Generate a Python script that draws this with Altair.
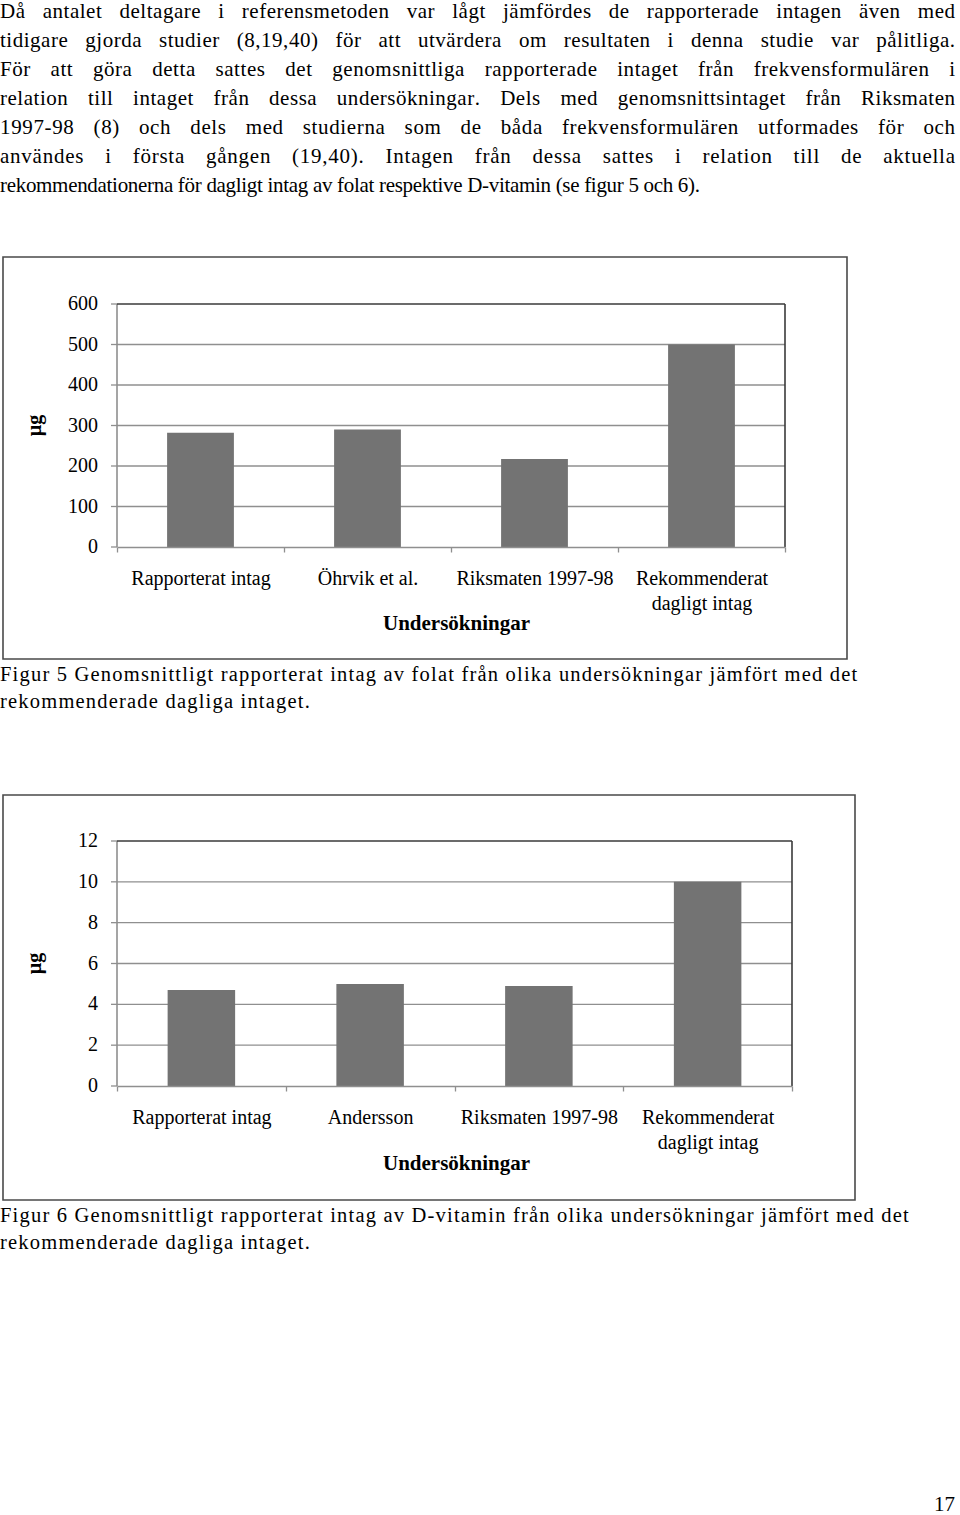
import altair as alt
import pandas as pd

# ---------------- data ----------------
body_lines = [
    "Då antalet deltagare i referensmetoden var lågt jämfördes de rapporterade intagen även med",
    "tidigare gjorda studier (8,19,40) för att utvärdera om resultaten i denna studie var pålitliga.",
    "För att göra detta sattes det genomsnittliga rapporterade intaget från frekvensformulären i",
    "relation till intaget från dessa undersökningar. Dels med genomsnittsintaget från Riksmaten",
    "1997-98 (8) och dels med studierna som de båda frekvensformulären utformades för och",
    "användes i första gången (19,40). Intagen från dessa sattes i relation till de aktuella",
    "rekommendationerna för dagligt intag av folat respektive D-vitamin (se figur 5 och 6).",
]
caption5_lines = [
    "Figur 5 Genomsnittligt rapporterat intag av folat från olika undersökningar jämfört med det",
    "rekommenderade dagliga intaget.",
]
caption6_lines = [
    "Figur 6 Genomsnittligt rapporterat intag av D-vitamin från olika undersökningar jämfört med det",
    "rekommenderade dagliga intaget.",
]
page_number = ["17"]

fig5_categories = ["Rapporterat intag", "Öhrvik et al.", "Riksmaten 1997-98", "Rekommenderat dagligt intag"]
fig5_values = [282, 290, 217, 500]
fig5_ticks = [0, 100, 200, 300, 400, 500, 600]

fig6_categories = ["Rapporterat intag", "Andersson", "Riksmaten 1997-98", "Rekommenderat dagligt intag"]
fig6_values = [4.7, 5.0, 4.9, 10]
fig6_ticks = [0, 2, 4, 6, 8, 10, 12]

x_title = "Undersökningar"
y_title = "µg"

# ---------------- layout / style ----------------
W, H = 960, 1515
FONT = "Liberation Serif"
BAR = "#737373"
GRID = "#8f8f8f"
DARK = "#3a3a3a"

# Times / Liberation Serif advance widths (1/1000 em) for justified text layout
_W = {" ": 250, "(": 333, ")": 333, ",": 250, ".": 250, "-": 333, ":": 278,
      "A": 722, "B": 667, "C": 667, "D": 722, "E": 611, "F": 556, "G": 722, "H": 722,
      "I": 333, "J": 389, "K": 722, "L": 611, "M": 889, "N": 722, "O": 722, "P": 556,
      "Q": 722, "R": 667, "S": 556, "T": 611, "U": 722, "V": 722, "W": 944, "X": 722,
      "Y": 722, "Z": 611, "Å": 722, "Ä": 722, "Ö": 722,
      "a": 444, "b": 500, "c": 444, "d": 500, "e": 444, "f": 333, "g": 500, "h": 500,
      "i": 278, "j": 278, "k": 500, "l": 278, "m": 778, "n": 500, "o": 500, "p": 500,
      "q": 500, "r": 333, "s": 389, "t": 278, "u": 500, "v": 500, "w": 722, "x": 500,
      "y": 500, "z": 444, "å": 444, "ä": 444, "ö": 500}
for _d in "0123456789":
    _W[_d] = 500


def layout_chars(lines, x0, y0, dy, fs, targets=None, letter_extra=0.0, word_share=0.6):
    rows = []
    for i, text in enumerate(lines):
        widths = [_W.get(c, 500) / 1000 * fs for c in text]
        natural = sum(widths)
        add_letter, add_space = letter_extra, 0.0
        target = targets[i] if targets else None
        if target:
            share = word_share if target > natural else 0.0
            extra = target - natural
            n_sp = max(text.count(" "), 1)
            add_space = extra * share / n_sp
            add_letter = extra * (1 - share) / max(len(text) - 1, 1)
        x = x0
        for c, w in zip(text, widths):
            if c != " ":
                rows.append({"c": c, "px": x, "py": y0 + i * dy})
            x += w + add_letter + (add_space if c == " " else 0.0)
    return pd.DataFrame(rows)


def text_chars(df, fs):
    return alt.Chart(df).mark_text(
        align="left", baseline="middle", font=FONT, fontSize=fs, color="black"
    ).encode(x=alt.X("px:Q", scale=None, axis=None),
             y=alt.Y("py:Q", scale=None, axis=None), text="c:N")


def text_block(lines, x0, y0, dy, size, align="left"):
    df = pd.DataFrame({"t": lines, "py": [y0 + i * dy for i in range(len(lines))]})
    return alt.Chart(df).mark_text(
        align=align, baseline="middle", font=FONT, fontSize=size, color="black"
    ).encode(x=alt.value(x0), y=alt.Y("py:Q", scale=None, axis=None), text="t:N")


def bar_figure(cats, vals, ticks, plot, frame, title_y):
    left, right, top, bottom = plot
    df = pd.DataFrame({"cat": cats, "val": vals})
    tdf = pd.DataFrame({"v": ticks, "lab": [str(t) for t in ticks]})
    xscale = alt.Scale(domain=cats, range=[left, right], paddingInner=0, paddingOuter=0)
    yscale = alt.Scale(domain=[ticks[0], ticks[-1]], range=[bottom, top], nice=False, zero=True)
    yenc = alt.Y("v:Q", scale=yscale, axis=None)

    one = pd.DataFrame({"a": [0]})
    frame_layer = alt.Chart(one).mark_rect(
        fill="transparent", stroke="#4a4a4a", strokeWidth=1.6
    ).encode(x=alt.value(frame[0]), x2=alt.value(frame[1]),
             y=alt.value(frame[2]), y2=alt.value(frame[3]))

    grid = alt.Chart(tdf[(tdf.v > ticks[0]) & (tdf.v < ticks[-1])]).mark_rule(
        color=GRID, strokeWidth=1.3
    ).encode(y=yenc, x=alt.value(left), x2=alt.value(right))

    yticks = alt.Chart(tdf).mark_rule(color=GRID, strokeWidth=1.3).encode(
        y=yenc, x=alt.value(left - 6), x2=alt.value(left))
    ylabels = alt.Chart(tdf).mark_text(
        align="right", baseline="middle", font=FONT, fontSize=20, color="black"
    ).encode(y=yenc, x=alt.value(left - 19), text="lab:N")
    ydomain = alt.Chart(one).mark_rule(color=GRID, strokeWidth=1.6).encode(
        x=alt.value(left), y=alt.value(top), y2=alt.value(bottom))
    ytitle = alt.Chart(pd.DataFrame({"t": [y_title]})).mark_text(
        align="center", baseline="middle", angle=270, font=FONT, fontSize=20,
        fontWeight="bold", color="black"
    ).encode(x=alt.value(35), y=alt.value((top + bottom) / 2), text="t:N")

    label_expr = ("datum.label == 'Rekommenderat dagligt intag' ? "
                  "['Rekommenderat', 'dagligt intag'] : datum.label")

    bars = alt.Chart(df).mark_bar(color=BAR, width=alt.RelativeBandSize(0.4)).encode(
        x=alt.X("cat:N", scale=xscale, sort=cats, axis=alt.Axis(
            orient="bottom", offset=-(H - bottom), title=x_title,
            titleFont=FONT, titleFontSize=21, titleFontWeight="bold", titleColor="black",
            titleX=456, titleY=title_y - bottom, titleBaseline="middle", titleAlign="center",
            labelFont=FONT, labelFontSize=20, labelColor="black", labelAngle=0,
            labelPadding=16, labelLineHeight=25, labelExpr=label_expr,
            tickBand="extent", tickSize=5, tickColor=GRID, tickWidth=1.3,
            domainColor=GRID, domainWidth=1.6, grid=False, zindex=1,
        )),
        y=alt.Y("val:Q", scale=yscale, axis=None),
    )

    top_line = alt.Chart(one).mark_rule(color=DARK, strokeWidth=1.6).encode(
        x=alt.value(left), x2=alt.value(right), y=alt.value(top))
    right_line = alt.Chart(one).mark_rule(color=DARK, strokeWidth=1.6).encode(
        x=alt.value(right), y=alt.value(top), y2=alt.value(bottom))

    return alt.layer(frame_layer, grid, bars, ydomain, yticks, ylabels, ytitle,
                     top_line, right_line)


fig5 = bar_figure(fig5_categories, fig5_values, fig5_ticks,
                  plot=(117, 785, 304, 547), frame=(3, 847, 257, 659), title_y=623)
fig6 = bar_figure(fig6_categories, fig6_values, fig6_ticks,
                  plot=(117, 792, 841, 1086), frame=(3, 855, 795, 1200), title_y=1163)

BODY_FS = 21
body = text_chars(layout_chars(body_lines, 0, 12, 29, BODY_FS,
                               targets=[955, 955, 955, 955, 955, 955, 700],
                               word_share=0.75), BODY_FS)
CAP_FS = 20.5
cap5 = text_chars(layout_chars(caption5_lines, 0, 675, 27, CAP_FS, letter_extra=1.2), CAP_FS)
cap6 = text_chars(layout_chars(caption6_lines, 0, 1216, 27, CAP_FS, letter_extra=1.2), CAP_FS)
page = text_block(page_number, 955, 1505, 0, 21, align="right")

chart = alt.layer(body, fig5, cap5, fig6, cap6, page).resolve_scale(
    x="independent", y="independent"
).properties(
    width=W, height=H, padding=0, autosize=alt.AutoSizeParams(type="none"),
    background="white",
).configure_view(strokeWidth=0)

chart.save("out.html", embed_options={"renderer": "svg", "actions": False})
